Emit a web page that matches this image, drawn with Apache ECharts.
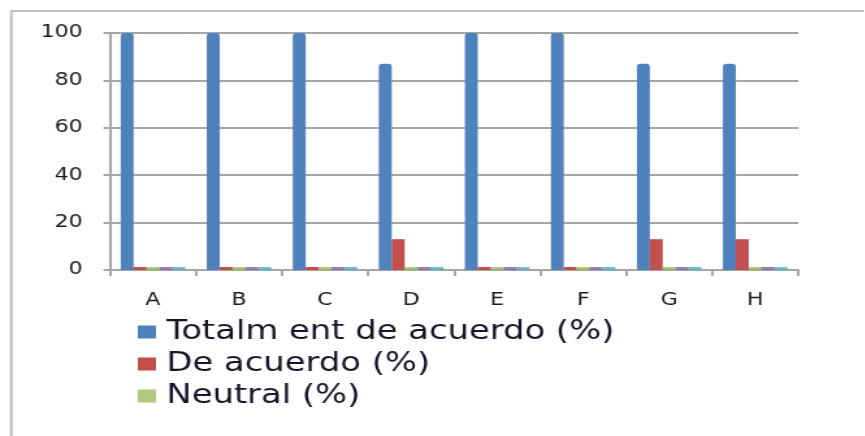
<!DOCTYPE html>
<html>
<head>
<meta charset="utf-8">
<script src="https://cdn.jsdelivr.net/npm/echarts@6/dist/echarts.min.js"></script>
<style>
html,body{margin:0;padding:0;background:#fff;overflow:hidden;}
#wrap{width:865px;height:436px;overflow:hidden;position:relative;}
#chart{width:665px;height:436px;transform:scaleX(1.3);transform-origin:0 0;}
</style>
</head>
<body>
<div id="wrap"><div id="chart"></div></div>
<script>
const categories = ['A','B','C','D','E','F','G','H'];
const totalmentValues = [100,100,100,87,100,100,87,87];
const deAcuerdoValues = [0,0,0,13,0,0,13,13];
const neutralValues = [0,0,0,0,0,0,0,0];
const desacuerdoValues = [0,0,0,0,0,0,0,0];
const totalDesacuerdoValues = [0,0,0,0,0,0,0,0];
const seriesNames = ['Totalm ent de acuerdo (%)','De acuerdo (%)','Neutral (%)','En desacuerdo (%)','Totalmente en desacuerdo (%)'];
const legendNames = seriesNames.slice(0,3);
const yTicks = [0,20,40,60,80,100];
const colors = ['#4F81BD','#C0504D','#9BBB59','#8064A2','#4BACC6'];

const chart = echarts.init(document.getElementById('chart'), null, {renderer:'canvas'});
const allValues = [totalmentValues, deAcuerdoValues, neutralValues, desacuerdoValues, totalDesacuerdoValues];
const series = allValues.map((vals,i)=>({
  name: seriesNames[i],
  type:'bar',
  data: vals,
  barGap:'0%',
  barCategoryGap:'25%',
  barMinHeight: 3,
  itemStyle:{color:colors[i], opacity: i<2 ? 1 : 0.8, borderRadius: i===0 ? [3,3,0,0] : 0},
  animation:false
}));
chart.setOption({
  animation:false,
  color: colors,
  graphic:[{
    type:'rect', left:7.7, top:10, z:-10,
    shape:{x:0,y:0,width:800,height:600},
    style:{fill:'#fff', stroke:'#bdbdbd', lineWidth:2}
  }],
  grid:{left:84.6, right:51, top:33, bottom:166, containLabel:false},
  xAxis:{
    type:'category', data:categories,
    offset:6,
    axisLine:{show:true, lineStyle:{color:'#a6a6a6', width:2}},
    axisTick:{show:true, length:6, lineStyle:{color:'#a6a6a6', width:2}},
    axisLabel:{color:'#1a1a1a', fontFamily:'DejaVu Sans', fontSize:17, margin:16},
    splitLine:{show:false}
  },
  yAxis:{
    type:'value', min:0, max:100, interval:20,
    axisLine:{show:true, lineStyle:{color:'#a6a6a6', width:2}},
    axisTick:{show:true, length:5, lineStyle:{color:'#a6a6a6', width:2}},
    axisLabel:{color:'#1a1a1a', fontFamily:'DejaVu Sans', fontSize:17, margin:21,
      formatter: v => yTicks.includes(v) ? String(v) : ''},
    splitLine:{show:true, lineStyle:{color:'#a6a6a6', width:2}}
  },
  legend:{
    data: legendNames,
    orient:'vertical',
    left:101, top:314,
    itemWidth:14, itemHeight:13, itemGap:6,
    icon:'rect',
    textStyle:{color:'#15152a', fontFamily:'DejaVu Sans', fontSize:26, lineHeight:26, padding:[0,0,0,3]}
  },
  series: series
});
</script>
</body>
</html>
